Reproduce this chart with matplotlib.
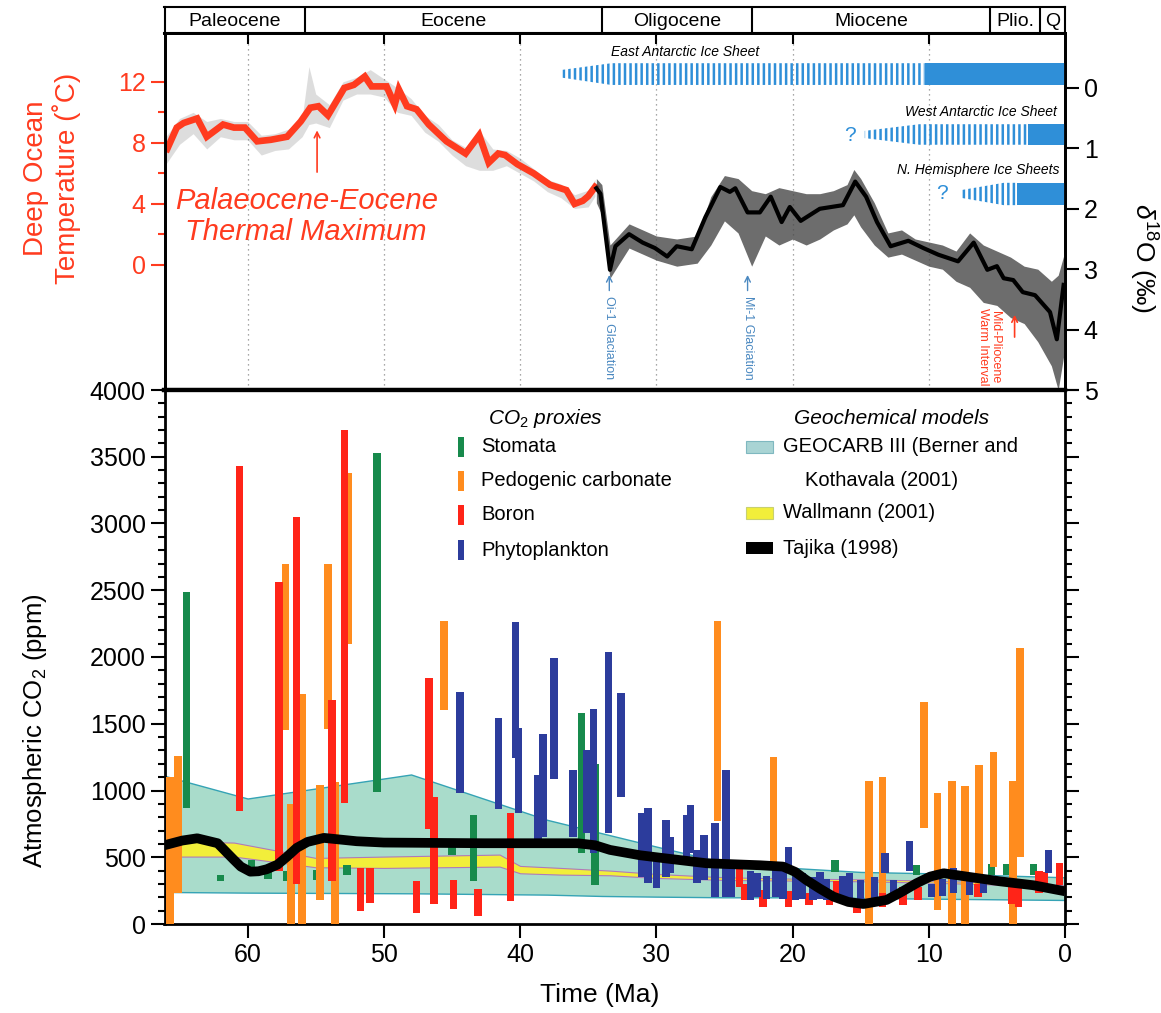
import matplotlib
matplotlib.use('Agg')
import matplotlib.pyplot as plt
from matplotlib.patches import Rectangle

plt.rcParams['font.family'] = ['Liberation Sans', 'DejaVu Sans']
plt.rcParams['mathtext.fontset'] = 'custom'
plt.rcParams['mathtext.rm'] = 'Liberation Sans'
plt.rcParams['mathtext.it'] = 'Liberation Sans:italic'
plt.rcParams['mathtext.bf'] = 'Liberation Sans:bold'
plt.rcParams['hatch.linewidth'] = 1.8

RED = '#ff3b1f'
ICE = '#2f8fd8'
GLC = '#4a88c0'
plt.rcParams['hatch.color'] = ICE

# ---------------- data ----------------
epoch_names = ['Paleocene', 'Eocene', 'Oligocene', 'Miocene', 'Plio.', 'Q']
epoch_bounds = [66.1, 55.8, 34.0, 23.0, 5.5, 1.8, 0.0]

# deep ocean temperature (red, ice-free part), deg C
temp_age = [65.9, 65.2, 64.7, 63.7, 63.0, 61.8, 61.0, 60.2, 59.3, 58.3, 57.1, 56.1, 55.4,
            54.8, 54.1, 52.9, 52.2, 51.4, 50.9, 49.8, 49.2, 48.9, 48.3, 47.6, 46.7, 45.4,
            44.0, 43.0, 42.3, 41.6, 41.1, 40.2, 39.0, 37.8, 36.6, 36.0, 35.4, 35.0, 34.5]
temp_c = [7.6, 9.0, 9.3, 9.6, 8.4, 9.2, 9.0, 9.0, 8.1, 8.2, 8.4, 9.4, 10.3,
          10.4, 9.8, 11.6, 11.8, 12.35, 11.7, 11.7, 10.5, 11.5, 10.4, 10.2, 9.2, 8.1,
          7.3, 8.5, 6.7, 7.3, 7.2, 6.6, 6.0, 5.25, 4.9, 4.0, 4.2, 4.5, 5.1]

# scatter envelope around the red curve
tenv_age = [66.0, 65.0, 64.0, 63.0, 62.0, 61.0, 60.0, 59.0, 58.0, 57.0, 56.0, 55.5, 55.0,
            54.0, 53.0, 52.0, 51.0, 50.0, 49.0, 48.0, 47.0, 46.0, 45.0, 44.0, 43.0, 42.0,
            41.0, 40.0, 39.0, 38.0, 37.0, 36.0, 35.0, 34.5]
tenv_hi = [8.4, 9.6, 10.0, 9.4, 9.6, 9.4, 9.4, 8.5, 8.6, 8.9, 9.6, 13.0, 11.2,
           10.5, 12.0, 12.3, 12.8, 12.2, 11.6, 10.9, 9.8, 9.2, 8.2, 7.7, 8.8, 7.6,
           7.5, 7.0, 6.3, 5.6, 5.3, 4.6, 4.9, 5.6]
tenv_lo = [6.6, 7.9, 8.6, 7.6, 8.4, 8.2, 8.2, 7.2, 7.5, 7.6, 8.4, 9.2, 9.3,
           9.0, 10.8, 11.2, 11.2, 11.0, 10.0, 9.8, 8.7, 8.1, 7.2, 6.5, 6.2, 6.2,
           6.5, 6.0, 5.5, 4.8, 4.4, 3.7, 3.8, 4.5]

# benthic d18O (black part), per mil
d18o_age = [34.4, 34.1, 33.4, 33.0, 32.0, 31.0, 30.1, 29.2, 28.5, 27.4, 26.4, 25.3, 24.6,
            24.2, 23.3, 22.4, 21.6, 20.8, 20.2, 19.4, 18.0, 16.3, 15.4, 14.6, 13.8, 12.8,
            11.5, 10.4, 9.3, 7.85, 6.7, 5.7, 5.0, 4.5, 3.8, 3.1, 2.2, 1.1, 0.6, 0.1]
d18o_val = [1.66, 1.75, 3.01, 2.62, 2.42, 2.56, 2.65, 2.79, 2.62, 2.67, 2.14, 1.64, 1.72,
            1.66, 2.06, 2.06, 1.80, 2.22, 1.97, 2.20, 2.00, 1.94, 1.55, 1.80, 2.22, 2.62,
            2.53, 2.65, 2.76, 2.87, 2.56, 3.01, 2.95, 3.15, 3.18, 3.38, 3.43, 3.71, 4.16, 3.26]

denv_age = [34.4, 34.0, 33.4, 32.0, 30.0, 28.5, 27.0, 26.0, 25.0, 24.0, 23.0, 22.0, 21.0,
            20.0, 19.0, 18.0, 17.0, 16.0, 15.5, 15.0, 14.0, 13.0, 12.0, 11.0, 10.0, 9.0,
            8.0, 7.0, 6.0, 5.0, 4.0, 3.0, 2.0, 1.0, 0.5, 0.0]
denv_min = [1.5, 1.6, 2.6, 2.25, 2.45, 2.5, 2.45, 1.8, 1.45, 1.5, 1.7, 1.75, 1.65,
            1.7, 1.75, 1.75, 1.7, 1.6, 1.35, 1.5, 1.9, 2.4, 2.35, 2.5, 2.55, 2.6,
            2.7, 2.4, 2.6, 2.7, 2.8, 2.95, 3.0, 3.2, 3.1, 2.7]
denv_max = [1.9, 2.1, 3.15, 2.65, 2.85, 2.95, 2.9, 2.6, 2.2, 2.4, 2.95, 2.45, 2.6,
            2.5, 2.6, 2.5, 2.35, 2.25, 2.1, 2.3, 2.6, 2.8, 2.75, 2.85, 2.95, 3.0,
            3.2, 3.3, 3.55, 3.6, 3.8, 3.9, 4.2, 4.6, 5.0, 4.3]

# ice sheets (age, top / bottom in d18O units); first 3 points striped, rest solid
eais_age = [36.9, 33.3, 10.3, 0.0]
eais_top = [-0.30, -0.41, -0.41, -0.41]
eais_bot = [-0.17, -0.05, -0.05, -0.05]
wais_age = [14.7, 10.7, 2.7, 0.0]
wais_top = [0.71, 0.60, 0.60, 0.60]
wais_bot = [0.83, 0.94, 0.94, 0.94]
nhis_age = [7.6, 4.5, 3.5, 0.0]
nhis_top = [1.69, 1.57, 1.57, 1.57]
nhis_bot = [1.82, 1.94, 1.94, 1.94]

# CO2 proxies: (age Ma, low ppm, high ppm)
stomata = [(65.5, 330, 410), (64.5, 870, 2490), (62.0, 320, 370), (59.7, 400, 480),
           (58.5, 340, 405), (57.1, 320, 400), (56.5, 320, 420), (56.2, 330, 1070),
           (56.0, 340, 450), (54.9, 330, 405), (52.7, 370, 440), (50.5, 990, 3530),
           (45.0, 520, 575), (43.4, 320, 820), (35.5, 530, 1580), (34.5, 290, 1200),
           (16.9, 390, 480), (10.9, 370, 445), (5.4, 370, 450), (4.3, 370, 450),
           (3.8, 370, 450), (2.3, 370, 450)]
pedogenic = [(65.7, 0, 1100), (65.1, 230, 1260), (57.2, 1450, 2700), (56.8, 0, 900),
             (56.0, 0, 1720), (54.7, 180, 1040), (54.1, 1460, 2700), (53.6, 0, 1060),
             (52.6, 2100, 3380), (45.6, 1600, 2270), (25.5, 770, 2270), (21.4, 460, 1250),
             (14.4, 0, 1070), (13.4, 130, 1100), (10.35, 720, 1660), (9.35, 105, 980),
             (8.3, 0, 1070), (7.35, 0, 1030), (6.3, 240, 1190), (5.25, 430, 1290),
             (3.8, 0, 1070), (3.3, 500, 2070)]
boron = [(60.6, 850, 3430), (57.7, 400, 2560), (56.4, 300, 3050), (53.8, 320, 1680),
         (52.9, 910, 3700), (51.7, 100, 420), (51.0, 160, 420), (47.6, 80, 320),
         (46.7, 710, 1840), (46.3, 150, 950), (44.9, 110, 330), (43.1, 60, 260),
         (40.7, 170, 835), (23.9, 280, 410), (23.5, 180, 300), (22.15, 130, 255),
         (20.3, 130, 250), (18.8, 140, 230), (17.3, 140, 230), (16.75, 200, 320),
         (15.25, 80, 155), (13.4, 130, 230), (11.9, 140, 280), (10.8, 180, 280),
         (6.4, 200, 300), (3.9, 150, 280), (3.4, 130, 300), (1.9, 230, 400),
         (1.5, 280, 390), (0.4, 290, 455)]
phyto = [(44.4, 980, 1740), (41.6, 860, 1545), (40.35, 1240, 2265), (40.1, 830, 1470),
         (38.7, 630, 1115), (38.3, 650, 1420), (37.5, 1085, 1990), (36.1, 650, 1150),
         (35.1, 680, 1300), (34.6, 530, 1610), (33.5, 680, 2040), (32.6, 950, 1730),
         (31.1, 355, 830), (30.6, 305, 866), (30.0, 270, 480), (29.3, 355, 780),
         (29.0, 380, 655), (27.8, 480, 816), (27.5, 530, 890), (27.0, 305, 555),
         (26.5, 330, 666), (25.7, 205, 755), (24.9, 205, 1154), (24.5, 204, 430),
         (23.1, 180, 400), (22.6, 200, 380), (21.9, 190, 360), (21.2, 200, 420),
         (20.7, 190, 440), (20.3, 380, 580), (19.8, 180, 400), (19.3, 190, 380),
         (18.5, 180, 350), (18.0, 190, 390), (17.5, 180, 340), (16.3, 180, 360),
         (15.8, 190, 380), (15.0, 190, 330), (14.0, 190, 350), (13.2, 380, 530),
         (12.6, 200, 330), (11.4, 400, 620), (9.8, 200, 300), (9.0, 210, 340),
         (8.2, 230, 420), (7.0, 220, 320), (6.0, 230, 330), (1.2, 380, 555)]

# geochemical models
geocarb_age = [66.1, 60, 48, 38, 34, 30, 25, 20, 15, 10, 5, 0]
geocarb_hi = [1110, 940, 1120, 780, 680, 580, 460, 420, 390, 380, 365, 350]
geocarb_lo = [240, 235, 230, 220, 210, 205, 200, 200, 195, 190, 185, 180]

wall_age = [66.1, 61, 55, 50, 41.5, 40, 37, 33.4, 30, 25, 20, 15, 10, 5, 0]
wall_hi = [620, 610, 495, 505, 520, 435, 420, 400, 375, 350, 340, 335, 325, 310, 290]
wall_lo = [505, 505, 425, 420, 430, 380, 370, 365, 345, 330, 325, 320, 310, 295, 275]

taj_age = [66.1, 64.8, 63.7, 62.2, 61.0, 60.5, 59.8, 59.2, 58.6, 57.8, 57.1, 56.4, 55.6,
           54.4, 52.0, 50.0, 42.7, 35.8, 34.5, 33.4, 31.2, 29.2, 26.3, 22.4, 20.7, 19.8,
           19.0, 18.0, 17.0, 15.9, 14.8, 13.1, 12.0, 10.9, 9.9, 8.9, 7.2, 4.8, 2.3, 0.0]
taj_co2 = [590, 625, 642, 605, 480, 430, 392, 395, 410, 445, 505, 570, 615,
           645, 620, 610, 605, 605, 590, 555, 515, 490, 455, 440, 430, 390,
           330, 265, 205, 165, 150, 180, 240, 305, 355, 380, 355, 320, 290, 245]

proxy_sets = [('Stomata', '#178a4c', stomata),
              ('Pedogenic carbonate', '#ff8c1e', pedogenic),
              ('Boron', '#ff2418', boron),
              ('Phytoplankton', '#2c3c9c', phyto)]

# ---------------- layout ----------------
W, H = 1161, 1013
fig = plt.figure(figsize=(W / 100, H / 100), dpi=100)
L = 164.5 / W
AW = (1065 - 164.5) / W


def fy(py):
    return 1 - py / H


ax_e = fig.add_axes([L, fy(33), AW, fy(7) - fy(33)])
ax_t = fig.add_axes([L, fy(390), AW, fy(33) - fy(390)])
ax_c = fig.add_axes([L, fy(924), AW, fy(390) - fy(924)])

# ---------------- epoch bar ----------------
ax_e.set_xlim(66.1, 0)
ax_e.set_ylim(0, 1)
ax_e.set_xticks([])
ax_e.set_yticks([])
for s in ax_e.spines.values():
    s.set_linewidth(1.5)
for b in epoch_bounds[1:-1]:
    ax_e.axvline(b, color='k', lw=1.5)
for name, a, b in zip(epoch_names, epoch_bounds[:-1], epoch_bounds[1:]):
    ax_e.text((a + b) / 2, 0.45, name, ha='center', va='center', fontsize=14)

# ---------------- top panel ----------------
ax_t.set_xlim(66.1, 0)
ax_t.set_ylim(-8.2, 15.2)
ax_t.set_yticks([0, 4, 8, 12])
ax_t.set_yticks([2, 6, 10], minor=True)
ax_t.tick_params(axis='y', which='both', colors=RED, labelsize=18, direction='out', width=1.5)
ax_t.tick_params(axis='y', which='major', length=10)
ax_t.tick_params(axis='y', which='minor', length=5)
ax_t.set_xticks(range(60, 0, -10))
ax_t.tick_params(axis='x', top=True, bottom=False, labelbottom=False, direction='in',
                 length=8, width=1.5)
ax_t.grid(axis='x', linestyle=(0, (1, 3)), color='#8a8a8a', lw=0.9)

ax_t.fill_between(tenv_age, tenv_lo, tenv_hi, color='#7a7a7a', alpha=0.25, lw=0)
ax_t.plot(temp_age, temp_c, color=RED, lw=4.8, solid_joinstyle='miter')

ax_t.annotate('', xy=(54.9, 9.0), xytext=(54.9, 5.9),
              arrowprops=dict(arrowstyle='->', color=RED, lw=1.2))
ax_t.text(55.7, 3.15, 'Palaeocene-Eocene\nThermal Maximum', ha='center', va='center',
          color=RED, fontsize=21, style='italic', linespacing=1.15)

ax_d = ax_t.twinx()
ax_d.set_ylim(5.0, -0.91)
ax_d.set_yticks(range(6))
ax_d.tick_params(axis='y', labelsize=18, length=10, width=1.5, direction='out')

ax_d.fill_between(denv_age, denv_min, denv_max, color='#484848', alpha=0.8, lw=0)
ax_d.plot(d18o_age, d18o_val, color='k', lw=3)

for ages, top, bot in [(eais_age, eais_top, eais_bot),
                       (wais_age, wais_top, wais_bot),
                       (nhis_age, nhis_top, nhis_bot)]:
    ax_d.fill_between(ages[:3], top[:3], bot[:3], facecolor='none', edgecolor=ICE,
                      hatch='|||', lw=0)
    ax_d.fill_between(ages[2:], top[2:], bot[2:], color=ICE, lw=0)

ax_d.text(27.9, -0.6, 'East Antarctic Ice Sheet', ha='center', va='center',
          style='italic', fontsize=10)
ax_d.text(0.6, 0.39, 'West Antarctic Ice Sheet', ha='right', va='center',
          style='italic', fontsize=10)
ax_d.text(0.4, 1.36, 'N. Hemisphere Ice Sheets', ha='right', va='center',
          style='italic', fontsize=10)
ax_d.text(15.8, 0.78, '?', color=ICE, fontsize=15, ha='center', va='center')
ax_d.text(9.0, 1.74, '?', color=ICE, fontsize=15, ha='center', va='center')

for age, label in [(33.45, 'Oi-1 Glaciation'), (23.3, 'Mi-1 Glaciation')]:
    ax_d.annotate('', xy=(age, 3.05), xytext=(age, 3.40),
                  arrowprops=dict(arrowstyle='->', color=GLC, lw=1))
    ax_d.text(age, 3.44, label, rotation=-90, ha='center', va='top', color=GLC, fontsize=9)

ax_d.annotate('', xy=(3.7, 3.71), xytext=(3.7, 4.17),
              arrowprops=dict(arrowstyle='->', color=RED, lw=1.2))
ax_d.text(5.6, 4.29, 'Mid-Pliocene\nWarm Interval', rotation=-90, ha='center', va='center',
          color=RED, fontsize=9, linespacing=1.0)

for a in (ax_t, ax_d):
    for s in a.spines.values():
        s.set_linewidth(2)
    a.spines['bottom'].set_linewidth(3)

# ---------------- bottom panel ----------------
ax_c.set_xlim(66.1, 0)
ax_c.set_ylim(0, 4000)
ax_c.fill_between(geocarb_age, geocarb_lo, geocarb_hi, facecolor='#a9dccb',
                  edgecolor='#35a3b5', lw=1, zorder=1)
ax_c.fill_between(wall_age, wall_lo, wall_hi, facecolor='#f2ee3a',
                  edgecolor='#b07ab8', lw=0.8, zorder=2)
for name, col, rows in proxy_sets:
    ages = [r[0] for r in rows]
    lows = [r[1] for r in rows]
    highs = [r[2] for r in rows]
    ax_c.bar(ages, [h - l for l, h in zip(lows, highs)], bottom=lows, width=0.55,
             color=col, lw=0, zorder=3)
ax_c.plot(taj_age, taj_co2, color='k', lw=7, zorder=4, solid_joinstyle='round',
          solid_capstyle='butt')

ax_c.set_yticks(range(0, 4001, 500))
ax_c.set_yticks(range(0, 4001, 100), minor=True)
ax_c.tick_params(axis='y', which='both', left=True, right=True, direction='out',
                 labelsize=18, width=1.5)
ax_c.tick_params(axis='y', which='major', length=10)
ax_c.tick_params(axis='y', which='minor', length=5)
ax_c.set_xticks(range(60, -1, -10))
ax_c.tick_params(axis='x', labelsize=18, length=10, width=1.5, direction='out')
for s in ax_c.spines.values():
    s.set_linewidth(2)
ax_c.spines['top'].set_linewidth(3)


# legend drawn by hand
def axx(px):
    return (px - 164.5) / 900.5


def axy(py):
    return (924 - py) / 534


tr = ax_c.transAxes
ax_c.text(axx(545), axy(418), 'CO$_2$ proxies', transform=tr, ha='center', va='center',
          fontsize=15, style='italic')
for (name, col, rows), py in zip(proxy_sets, [447, 481, 515, 550]):
    ax_c.add_patch(Rectangle((axx(458), axy(py + 10)), axx(464) - axx(458), 20 / 534,
                             transform=tr, color=col, lw=0, zorder=5))
    ax_c.text(axx(481), axy(py), name, transform=tr, ha='left', va='center', fontsize=14.5)

ax_c.text(axx(892), axy(418), 'Geochemical models', transform=tr, ha='center', va='center',
          fontsize=15, style='italic')
ax_c.add_patch(Rectangle((axx(746), axy(453)), axx(773) - axx(746), 12 / 534, transform=tr,
                         facecolor='#a9d4d4', edgecolor='#7fb8c0', lw=0.8, zorder=5))
ax_c.text(axx(783), axy(447), 'GEOCARB III (Berner and', transform=tr, ha='left',
          va='center', fontsize=14.5)
ax_c.text(axx(805), axy(481), 'Kothavala (2001)', transform=tr, ha='left', va='center',
          fontsize=14.5)
ax_c.add_patch(Rectangle((axx(746), axy(519)), axx(773) - axx(746), 12 / 534, transform=tr,
                         facecolor='#f2ee3a', edgecolor='#c8d070', lw=0.8, zorder=5))
ax_c.text(axx(783), axy(513), 'Wallmann (2001)', transform=tr, ha='left', va='center',
          fontsize=14.5)
ax_c.add_patch(Rectangle((axx(746), axy(554)), axx(773) - axx(746), 12 / 534, transform=tr,
                         facecolor='k', lw=0, zorder=5))
ax_c.text(axx(783), axy(548), 'Tajika (1998)', transform=tr, ha='left', va='center',
          fontsize=14.5)

# axis labels
fig.text(35 / W, fy(731), 'Atmospheric CO$_2$ (ppm)', rotation=90, ha='center',
         va='center', fontsize=18.5)
fig.text(600 / W, fy(995), 'Time (Ma)', ha='center', va='center', fontsize=19)
fig.text(52 / W, fy(178), 'Deep Ocean\nTemperature (˚C)', rotation=90, ha='center',
         va='center', color=RED, fontsize=20, linespacing=1.15)
fig.text(1143 / W, fy(258), r'$\delta^{18}$O (‰)', rotation=270, ha='center',
         va='center', fontsize=19)

fig.savefig('out.png', dpi=100)
